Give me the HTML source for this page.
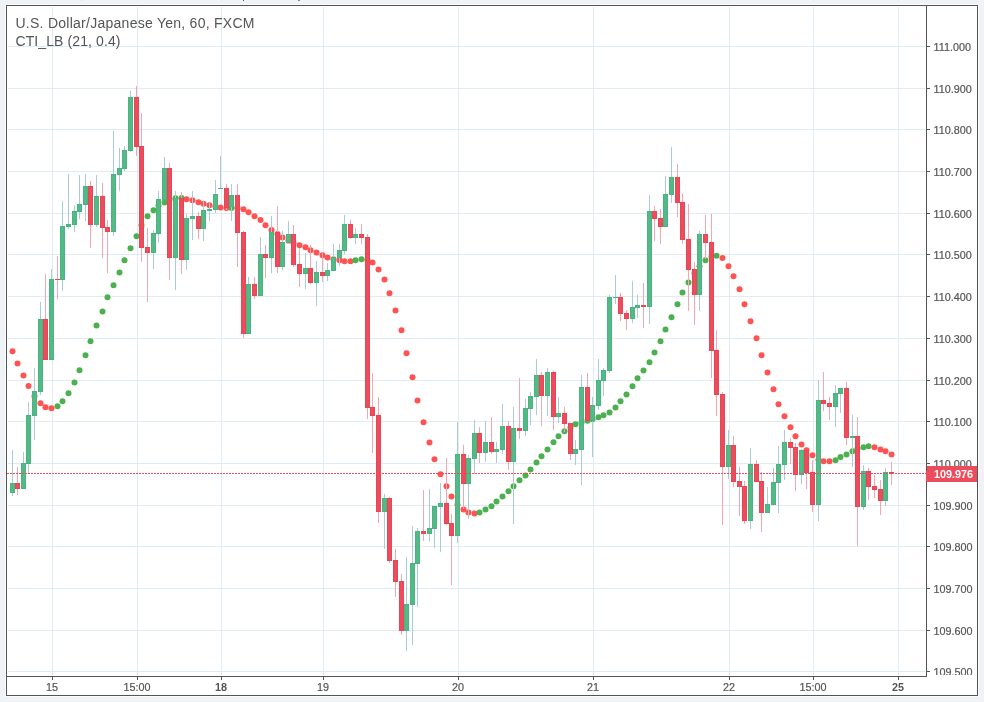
<!DOCTYPE html>
<html lang="en"><head><meta charset="utf-8"><title>USDJPY chart</title>
<style>html,body{margin:0;padding:0;background:#f0f3f6;overflow:hidden}body{width:984px;height:702px;position:relative;font-family:"Liberation Sans",Arial,sans-serif}svg{position:absolute;left:0;top:0;display:block}text{font-family:"Liberation Sans",Arial,sans-serif}.lg{font-size:14px;letter-spacing:.26px;fill:#555}.ax{font-size:10.8px;fill:#555;stroke:#555;stroke-width:.2px}.pl{font-size:10.8px;fill:#fff;font-weight:bold}.b{font-weight:bold;stroke:none}</style></head><body>
<svg width="984" height="702" viewBox="0 0 984 702">
<rect x="5" y="4" width="974" height="693" fill="#fafcfe"/><rect x="6" y="5" width="972" height="691" fill="#fff"/>
<rect x="81" y="0" width="1" height="1" fill="#dcdee0"/><rect x="243" y="0" width="1" height="1" fill="#555"/><rect x="298" y="0" width="2" height="1" fill="#888"/>
<g fill="#e1ecf2" shape-rendering="crispEdges">
<rect x="8" y="46" width="917" height="1"/>
<rect x="8" y="88" width="917" height="1"/>
<rect x="8" y="129" width="917" height="1"/>
<rect x="8" y="171" width="917" height="1"/>
<rect x="8" y="213" width="917" height="1"/>
<rect x="8" y="254" width="917" height="1"/>
<rect x="8" y="296" width="917" height="1"/>
<rect x="8" y="338" width="917" height="1"/>
<rect x="8" y="380" width="917" height="1"/>
<rect x="8" y="421" width="917" height="1"/>
<rect x="8" y="463" width="917" height="1"/>
<rect x="8" y="505" width="917" height="1"/>
<rect x="8" y="546" width="917" height="1"/>
<rect x="8" y="588" width="917" height="1"/>
<rect x="8" y="630" width="917" height="1"/>
<rect x="8" y="671" width="917" height="1"/>
<rect x="52" y="7" width="1" height="668"/>
<rect x="137" y="7" width="1" height="668"/>
<rect x="221" y="7" width="1" height="668"/>
<rect x="323" y="7" width="1" height="668"/>
<rect x="458" y="7" width="1" height="668"/>
<rect x="593" y="7" width="1" height="668"/>
<rect x="729" y="7" width="1" height="668"/>
<rect x="813" y="7" width="1" height="668"/>
<rect x="898" y="7" width="1" height="668"/>
</g>
<clipPath id="pane"><rect x="7" y="6" width="919" height="670"/></clipPath>
<g clip-path="url(#pane)">
<g>
<circle cx="12.5" cy="351.3" r="3" fill="#ff5252"/>
<circle cx="17.5" cy="363.5" r="3" fill="#ff5252"/>
<circle cx="23.5" cy="375.5" r="3" fill="#ff5252"/>
<circle cx="28.5" cy="386.0" r="3" fill="#ff5252"/>
<circle cx="34.5" cy="396.3" r="3" fill="#ff5252"/>
<circle cx="40.5" cy="403.3" r="3" fill="#ff5252"/>
<circle cx="45.5" cy="407.2" r="3" fill="#ff5252"/>
<circle cx="51.5" cy="408.3" r="3" fill="#ff5252"/>
<circle cx="57.5" cy="406.3" r="3" fill="#4caf50"/>
<circle cx="62.5" cy="401.3" r="3" fill="#4caf50"/>
<circle cx="68.5" cy="393.3" r="3" fill="#4caf50"/>
<circle cx="74.5" cy="382.6" r="3" fill="#4caf50"/>
<circle cx="79.5" cy="370.3" r="3" fill="#4caf50"/>
<circle cx="85.5" cy="355.3" r="3" fill="#4caf50"/>
<circle cx="90.5" cy="341.3" r="3" fill="#4caf50"/>
<circle cx="96.5" cy="325.5" r="3" fill="#4caf50"/>
<circle cx="102.5" cy="311.5" r="3" fill="#4caf50"/>
<circle cx="107.5" cy="297.3" r="3" fill="#4caf50"/>
<circle cx="113.5" cy="285.3" r="3" fill="#4caf50"/>
<circle cx="119.5" cy="272.5" r="3" fill="#4caf50"/>
<circle cx="124.5" cy="260.3" r="3" fill="#4caf50"/>
<circle cx="130.5" cy="248.3" r="3" fill="#4caf50"/>
<circle cx="136.5" cy="236.3" r="3" fill="#4caf50"/>
<circle cx="141.5" cy="225.2" r="3" fill="#4caf50"/>
<circle cx="147.5" cy="216.3" r="3" fill="#4caf50"/>
<circle cx="153.5" cy="210.3" r="3" fill="#4caf50"/>
<circle cx="158.5" cy="205.7" r="3" fill="#4caf50"/>
<circle cx="164.5" cy="202.5" r="3" fill="#4caf50"/>
<circle cx="169.5" cy="200.0" r="3" fill="#4caf50"/>
<circle cx="175.5" cy="198.3" r="3" fill="#4caf50"/>
<circle cx="181.5" cy="198.0" r="3" fill="#4caf50"/>
<circle cx="186.5" cy="199.2" r="3" fill="#ff5252"/>
<circle cx="192.5" cy="200.3" r="3" fill="#ff5252"/>
<circle cx="198.5" cy="202.2" r="3" fill="#ff5252"/>
<circle cx="203.5" cy="203.7" r="3" fill="#ff5252"/>
<circle cx="209.5" cy="205.3" r="3" fill="#ff5252"/>
<circle cx="215.5" cy="206.7" r="3" fill="#ff5252"/>
<circle cx="220.5" cy="207.5" r="3" fill="#ff5252"/>
<circle cx="226.5" cy="208.0" r="3" fill="#ff5252"/>
<circle cx="231.5" cy="208.0" r="3" fill="#4caf50"/>
<circle cx="237.5" cy="208.0" r="3" fill="#ff5252"/>
<circle cx="243.5" cy="209.2" r="3" fill="#ff5252"/>
<circle cx="248.5" cy="212.2" r="3" fill="#ff5252"/>
<circle cx="254.5" cy="216.2" r="3" fill="#ff5252"/>
<circle cx="260.5" cy="220.0" r="3" fill="#ff5252"/>
<circle cx="265.5" cy="225.3" r="3" fill="#ff5252"/>
<circle cx="271.5" cy="230.0" r="3" fill="#ff5252"/>
<circle cx="277.5" cy="234.0" r="3" fill="#ff5252"/>
<circle cx="282.5" cy="237.5" r="3" fill="#ff5252"/>
<circle cx="288.5" cy="240.8" r="3" fill="#ff5252"/>
<circle cx="293.5" cy="243.0" r="3" fill="#ff5252"/>
<circle cx="299.5" cy="245.3" r="3" fill="#ff5252"/>
<circle cx="305.5" cy="247.3" r="3" fill="#ff5252"/>
<circle cx="310.5" cy="250.2" r="3" fill="#ff5252"/>
<circle cx="316.5" cy="252.5" r="3" fill="#ff5252"/>
<circle cx="322.5" cy="255.3" r="3" fill="#ff5252"/>
<circle cx="327.5" cy="257.5" r="3" fill="#ff5252"/>
<circle cx="333.5" cy="259.2" r="3" fill="#ff5252"/>
<circle cx="339.5" cy="260.3" r="3" fill="#ff5252"/>
<circle cx="344.5" cy="261.3" r="3" fill="#ff5252"/>
<circle cx="350.5" cy="261.3" r="3" fill="#ff5252"/>
<circle cx="355.5" cy="260.3" r="3" fill="#4caf50"/>
<circle cx="361.5" cy="259.3" r="3" fill="#4caf50"/>
<circle cx="367.5" cy="260.0" r="3" fill="#ff5252"/>
<circle cx="372.5" cy="262.5" r="3" fill="#ff5252"/>
<circle cx="378.5" cy="269.5" r="3" fill="#ff5252"/>
<circle cx="384.5" cy="279.5" r="3" fill="#ff5252"/>
<circle cx="389.5" cy="293.3" r="3" fill="#ff5252"/>
<circle cx="395.5" cy="310.4" r="3" fill="#ff5252"/>
<circle cx="401.5" cy="330.3" r="3" fill="#ff5252"/>
<circle cx="406.5" cy="353.3" r="3" fill="#ff5252"/>
<circle cx="412.5" cy="377.3" r="3" fill="#ff5252"/>
<circle cx="417.5" cy="400.5" r="3" fill="#ff5252"/>
<circle cx="423.5" cy="422.2" r="3" fill="#ff5252"/>
<circle cx="429.5" cy="442.5" r="3" fill="#ff5252"/>
<circle cx="434.5" cy="459.3" r="3" fill="#ff5252"/>
<circle cx="440.5" cy="474.3" r="3" fill="#ff5252"/>
<circle cx="446.5" cy="486.3" r="3" fill="#ff5252"/>
<circle cx="451.5" cy="496.5" r="3" fill="#ff5252"/>
<circle cx="457.5" cy="504.7" r="3" fill="#ff5252"/>
<circle cx="463.5" cy="509.5" r="3" fill="#ff5252"/>
<circle cx="468.5" cy="512.4" r="3" fill="#ff5252"/>
<circle cx="474.5" cy="513.5" r="3" fill="#ff5252"/>
<circle cx="479.5" cy="512.5" r="3" fill="#4caf50"/>
<circle cx="485.5" cy="509.6" r="3" fill="#4caf50"/>
<circle cx="491.5" cy="506.3" r="3" fill="#4caf50"/>
<circle cx="496.5" cy="501.5" r="3" fill="#4caf50"/>
<circle cx="502.5" cy="496.5" r="3" fill="#4caf50"/>
<circle cx="508.5" cy="491.3" r="3" fill="#4caf50"/>
<circle cx="513.5" cy="486.3" r="3" fill="#4caf50"/>
<circle cx="519.5" cy="480.3" r="3" fill="#4caf50"/>
<circle cx="525.5" cy="475.5" r="3" fill="#4caf50"/>
<circle cx="530.5" cy="469.5" r="3" fill="#4caf50"/>
<circle cx="536.5" cy="462.4" r="3" fill="#4caf50"/>
<circle cx="541.5" cy="456.3" r="3" fill="#4caf50"/>
<circle cx="547.5" cy="449.4" r="3" fill="#4caf50"/>
<circle cx="553.5" cy="442.2" r="3" fill="#4caf50"/>
<circle cx="558.5" cy="436.3" r="3" fill="#4caf50"/>
<circle cx="564.5" cy="431.2" r="3" fill="#4caf50"/>
<circle cx="570.5" cy="427.5" r="3" fill="#4caf50"/>
<circle cx="575.5" cy="424.2" r="3" fill="#4caf50"/>
<circle cx="581.5" cy="422.5" r="3" fill="#4caf50"/>
<circle cx="587.5" cy="420.8" r="3" fill="#4caf50"/>
<circle cx="592.5" cy="419.2" r="3" fill="#4caf50"/>
<circle cx="598.5" cy="417.2" r="3" fill="#4caf50"/>
<circle cx="603.5" cy="415.3" r="3" fill="#4caf50"/>
<circle cx="609.5" cy="412.5" r="3" fill="#4caf50"/>
<circle cx="615.5" cy="407.5" r="3" fill="#4caf50"/>
<circle cx="620.5" cy="401.3" r="3" fill="#4caf50"/>
<circle cx="626.5" cy="394.5" r="3" fill="#4caf50"/>
<circle cx="632.5" cy="386.2" r="3" fill="#4caf50"/>
<circle cx="637.5" cy="378.3" r="3" fill="#4caf50"/>
<circle cx="643.5" cy="370.5" r="3" fill="#4caf50"/>
<circle cx="649.5" cy="362.2" r="3" fill="#4caf50"/>
<circle cx="654.5" cy="352.5" r="3" fill="#4caf50"/>
<circle cx="660.5" cy="341.2" r="3" fill="#4caf50"/>
<circle cx="665.5" cy="329.5" r="3" fill="#4caf50"/>
<circle cx="671.5" cy="317.3" r="3" fill="#4caf50"/>
<circle cx="677.5" cy="304.3" r="3" fill="#4caf50"/>
<circle cx="682.5" cy="292.5" r="3" fill="#4caf50"/>
<circle cx="688.5" cy="282.5" r="3" fill="#4caf50"/>
<circle cx="694.5" cy="273.3" r="3" fill="#4caf50"/>
<circle cx="699.5" cy="266.2" r="3" fill="#4caf50"/>
<circle cx="705.5" cy="260.3" r="3" fill="#4caf50"/>
<circle cx="711.5" cy="256.7" r="3" fill="#4caf50"/>
<circle cx="716.5" cy="255.8" r="3" fill="#4caf50"/>
<circle cx="722.5" cy="258.0" r="3" fill="#ff5252"/>
<circle cx="728.5" cy="266.3" r="3" fill="#ff5252"/>
<circle cx="733.5" cy="276.3" r="3" fill="#ff5252"/>
<circle cx="739.5" cy="289.3" r="3" fill="#ff5252"/>
<circle cx="744.5" cy="304.3" r="3" fill="#ff5252"/>
<circle cx="750.5" cy="321.3" r="3" fill="#ff5252"/>
<circle cx="756.5" cy="338.3" r="3" fill="#ff5252"/>
<circle cx="761.5" cy="355.3" r="3" fill="#ff5252"/>
<circle cx="767.5" cy="372.5" r="3" fill="#ff5252"/>
<circle cx="773.5" cy="389.3" r="3" fill="#ff5252"/>
<circle cx="778.5" cy="404.3" r="3" fill="#ff5252"/>
<circle cx="784.5" cy="416.3" r="3" fill="#ff5252"/>
<circle cx="790.5" cy="427.3" r="3" fill="#ff5252"/>
<circle cx="795.5" cy="436.3" r="3" fill="#ff5252"/>
<circle cx="801.5" cy="444.4" r="3" fill="#ff5252"/>
<circle cx="806.5" cy="450.3" r="3" fill="#ff5252"/>
<circle cx="812.5" cy="455.3" r="3" fill="#ff5252"/>
<circle cx="818.5" cy="459.7" r="3" fill="#ff5252"/>
<circle cx="823.5" cy="461.3" r="3" fill="#ff5252"/>
<circle cx="829.5" cy="461.3" r="3" fill="#ff5252"/>
<circle cx="835.5" cy="460.2" r="3" fill="#4caf50"/>
<circle cx="840.5" cy="457.1" r="3" fill="#4caf50"/>
<circle cx="846.5" cy="454.5" r="3" fill="#4caf50"/>
<circle cx="852.5" cy="451.3" r="3" fill="#4caf50"/>
<circle cx="857.5" cy="448.8" r="3" fill="#4caf50"/>
<circle cx="863.5" cy="447.2" r="3" fill="#4caf50"/>
<circle cx="868.5" cy="446.3" r="3" fill="#4caf50"/>
<circle cx="874.5" cy="447.2" r="3" fill="#ff5252"/>
<circle cx="880.5" cy="449.5" r="3" fill="#ff5252"/>
<circle cx="885.5" cy="451.3" r="3" fill="#ff5252"/>
<circle cx="891.5" cy="454.5" r="3" fill="#ff5252"/>
</g>
<g shape-rendering="crispEdges">
<rect x="12" y="450" width="1" height="46" fill="#a9cdd3"/>
<rect x="10" y="483" width="5" height="10" fill="#4ab480"/>
<rect x="11" y="484" width="3" height="8" fill="#53b987"/>
<rect x="17" y="467" width="1" height="28" fill="#f5a6ae"/>
<rect x="15" y="483" width="5" height="6" fill="#e94555"/>
<rect x="16" y="484" width="3" height="4" fill="#eb4d5c"/>
<rect x="23" y="452" width="1" height="37" fill="#a9cdd3"/>
<rect x="21" y="463" width="5" height="26" fill="#4ab480"/>
<rect x="22" y="464" width="3" height="24" fill="#53b987"/>
<rect x="28" y="402" width="1" height="71" fill="#a9cdd3"/>
<rect x="26" y="415" width="5" height="49" fill="#4ab480"/>
<rect x="27" y="416" width="3" height="47" fill="#53b987"/>
<rect x="34" y="368" width="1" height="72" fill="#a9cdd3"/>
<rect x="32" y="391" width="5" height="25" fill="#4ab480"/>
<rect x="33" y="392" width="3" height="23" fill="#53b987"/>
<rect x="40" y="302" width="1" height="93" fill="#a9cdd3"/>
<rect x="38" y="319" width="5" height="73" fill="#4ab480"/>
<rect x="39" y="320" width="3" height="71" fill="#53b987"/>
<rect x="45" y="274" width="1" height="86" fill="#f5a6ae"/>
<rect x="43" y="319" width="5" height="41" fill="#e94555"/>
<rect x="44" y="320" width="3" height="39" fill="#eb4d5c"/>
<rect x="51" y="269" width="1" height="91" fill="#a9cdd3"/>
<rect x="49" y="279" width="5" height="81" fill="#4ab480"/>
<rect x="50" y="280" width="3" height="79" fill="#53b987"/>
<rect x="57" y="256" width="1" height="43" fill="#f5a6ae"/>
<rect x="55" y="279" width="5" height="1" fill="#e94555"/>
<rect x="62" y="201" width="1" height="90" fill="#a9cdd3"/>
<rect x="60" y="226" width="5" height="54" fill="#4ab480"/>
<rect x="61" y="227" width="3" height="52" fill="#53b987"/>
<rect x="68" y="174" width="1" height="55" fill="#a9cdd3"/>
<rect x="66" y="224" width="5" height="3" fill="#4ab480"/>
<rect x="67" y="225" width="3" height="1" fill="#53b987"/>
<rect x="74" y="205" width="1" height="27" fill="#a9cdd3"/>
<rect x="72" y="211" width="5" height="14" fill="#4ab480"/>
<rect x="73" y="212" width="3" height="12" fill="#53b987"/>
<rect x="79" y="175" width="1" height="44" fill="#a9cdd3"/>
<rect x="77" y="204" width="5" height="8" fill="#4ab480"/>
<rect x="78" y="205" width="3" height="6" fill="#53b987"/>
<rect x="85" y="174" width="1" height="47" fill="#a9cdd3"/>
<rect x="83" y="186" width="5" height="19" fill="#4ab480"/>
<rect x="84" y="187" width="3" height="17" fill="#53b987"/>
<rect x="90" y="181" width="1" height="67" fill="#f5a6ae"/>
<rect x="88" y="186" width="5" height="39" fill="#e94555"/>
<rect x="89" y="187" width="3" height="37" fill="#eb4d5c"/>
<rect x="96" y="175" width="1" height="52" fill="#a9cdd3"/>
<rect x="94" y="196" width="5" height="29" fill="#4ab480"/>
<rect x="95" y="197" width="3" height="27" fill="#53b987"/>
<rect x="102" y="183" width="1" height="75" fill="#f5a6ae"/>
<rect x="100" y="196" width="5" height="32" fill="#e94555"/>
<rect x="101" y="197" width="3" height="30" fill="#eb4d5c"/>
<rect x="107" y="220" width="1" height="53" fill="#f5a6ae"/>
<rect x="105" y="227" width="5" height="5" fill="#e94555"/>
<rect x="106" y="228" width="3" height="3" fill="#eb4d5c"/>
<rect x="113" y="131" width="1" height="105" fill="#a9cdd3"/>
<rect x="111" y="174" width="5" height="58" fill="#4ab480"/>
<rect x="112" y="175" width="3" height="56" fill="#53b987"/>
<rect x="119" y="148" width="1" height="43" fill="#a9cdd3"/>
<rect x="117" y="168" width="5" height="7" fill="#4ab480"/>
<rect x="118" y="169" width="3" height="5" fill="#53b987"/>
<rect x="124" y="146" width="1" height="25" fill="#a9cdd3"/>
<rect x="122" y="150" width="5" height="19" fill="#4ab480"/>
<rect x="123" y="151" width="3" height="17" fill="#53b987"/>
<rect x="130" y="91" width="1" height="61" fill="#a9cdd3"/>
<rect x="128" y="97" width="5" height="54" fill="#4ab480"/>
<rect x="129" y="98" width="3" height="52" fill="#53b987"/>
<rect x="136" y="86" width="1" height="70" fill="#f5a6ae"/>
<rect x="134" y="97" width="5" height="50" fill="#e94555"/>
<rect x="135" y="98" width="3" height="48" fill="#eb4d5c"/>
<rect x="141" y="113" width="1" height="149" fill="#f5a6ae"/>
<rect x="139" y="146" width="5" height="102" fill="#e94555"/>
<rect x="140" y="147" width="3" height="100" fill="#eb4d5c"/>
<rect x="147" y="228" width="1" height="74" fill="#f5a6ae"/>
<rect x="145" y="247" width="5" height="6" fill="#e94555"/>
<rect x="146" y="248" width="3" height="4" fill="#eb4d5c"/>
<rect x="153" y="230" width="1" height="39" fill="#a9cdd3"/>
<rect x="151" y="233" width="5" height="20" fill="#4ab480"/>
<rect x="152" y="234" width="3" height="18" fill="#53b987"/>
<rect x="158" y="191" width="1" height="52" fill="#a9cdd3"/>
<rect x="156" y="199" width="5" height="35" fill="#4ab480"/>
<rect x="157" y="200" width="3" height="33" fill="#53b987"/>
<rect x="164" y="157" width="1" height="43" fill="#a9cdd3"/>
<rect x="162" y="168" width="5" height="32" fill="#4ab480"/>
<rect x="163" y="169" width="3" height="30" fill="#53b987"/>
<rect x="169" y="163" width="1" height="117" fill="#f5a6ae"/>
<rect x="167" y="168" width="5" height="90" fill="#e94555"/>
<rect x="168" y="169" width="3" height="88" fill="#eb4d5c"/>
<rect x="175" y="191" width="1" height="99" fill="#a9cdd3"/>
<rect x="173" y="198" width="5" height="60" fill="#4ab480"/>
<rect x="174" y="199" width="3" height="58" fill="#53b987"/>
<rect x="181" y="192" width="1" height="82" fill="#f5a6ae"/>
<rect x="179" y="198" width="5" height="62" fill="#e94555"/>
<rect x="180" y="199" width="3" height="60" fill="#eb4d5c"/>
<rect x="186" y="214" width="1" height="56" fill="#a9cdd3"/>
<rect x="184" y="218" width="5" height="42" fill="#4ab480"/>
<rect x="185" y="219" width="3" height="40" fill="#53b987"/>
<rect x="192" y="191" width="1" height="49" fill="#a9cdd3"/>
<rect x="190" y="216" width="5" height="3" fill="#4ab480"/>
<rect x="191" y="217" width="3" height="1" fill="#53b987"/>
<rect x="198" y="212" width="1" height="27" fill="#f5a6ae"/>
<rect x="196" y="216" width="5" height="13" fill="#e94555"/>
<rect x="197" y="217" width="3" height="11" fill="#eb4d5c"/>
<rect x="203" y="201" width="1" height="40" fill="#a9cdd3"/>
<rect x="201" y="210" width="5" height="19" fill="#4ab480"/>
<rect x="202" y="211" width="3" height="17" fill="#53b987"/>
<rect x="209" y="203" width="1" height="18" fill="#a9cdd3"/>
<rect x="207" y="209" width="5" height="2" fill="#4ab480"/>
<rect x="215" y="180" width="1" height="33" fill="#a9cdd3"/>
<rect x="213" y="194" width="5" height="16" fill="#4ab480"/>
<rect x="214" y="195" width="3" height="14" fill="#53b987"/>
<rect x="220" y="156" width="1" height="33" fill="#a9cdd3"/>
<rect x="218" y="188" width="5" height="1" fill="#4ab480"/>
<rect x="226" y="184" width="1" height="26" fill="#f5a6ae"/>
<rect x="224" y="188" width="5" height="20" fill="#e94555"/>
<rect x="225" y="189" width="3" height="18" fill="#eb4d5c"/>
<rect x="231" y="184" width="1" height="37" fill="#a9cdd3"/>
<rect x="229" y="195" width="5" height="12" fill="#4ab480"/>
<rect x="230" y="196" width="3" height="10" fill="#53b987"/>
<rect x="237" y="184" width="1" height="83" fill="#f5a6ae"/>
<rect x="235" y="195" width="5" height="38" fill="#e94555"/>
<rect x="236" y="196" width="3" height="36" fill="#eb4d5c"/>
<rect x="243" y="231" width="1" height="107" fill="#f5a6ae"/>
<rect x="241" y="232" width="5" height="102" fill="#e94555"/>
<rect x="242" y="233" width="3" height="100" fill="#eb4d5c"/>
<rect x="248" y="277" width="1" height="57" fill="#a9cdd3"/>
<rect x="246" y="284" width="5" height="50" fill="#4ab480"/>
<rect x="247" y="285" width="3" height="48" fill="#53b987"/>
<rect x="254" y="277" width="1" height="22" fill="#f5a6ae"/>
<rect x="252" y="284" width="5" height="12" fill="#e94555"/>
<rect x="253" y="285" width="3" height="10" fill="#eb4d5c"/>
<rect x="260" y="237" width="1" height="59" fill="#a9cdd3"/>
<rect x="258" y="254" width="5" height="42" fill="#4ab480"/>
<rect x="259" y="255" width="3" height="40" fill="#53b987"/>
<rect x="265" y="245" width="1" height="33" fill="#f5a6ae"/>
<rect x="263" y="254" width="5" height="4" fill="#e94555"/>
<rect x="264" y="255" width="3" height="2" fill="#eb4d5c"/>
<rect x="271" y="216" width="1" height="57" fill="#a9cdd3"/>
<rect x="269" y="232" width="5" height="26" fill="#4ab480"/>
<rect x="270" y="233" width="3" height="24" fill="#53b987"/>
<rect x="277" y="206" width="1" height="67" fill="#f5a6ae"/>
<rect x="275" y="232" width="5" height="35" fill="#e94555"/>
<rect x="276" y="233" width="3" height="33" fill="#eb4d5c"/>
<rect x="282" y="231" width="1" height="39" fill="#a9cdd3"/>
<rect x="280" y="242" width="5" height="25" fill="#4ab480"/>
<rect x="281" y="243" width="3" height="23" fill="#53b987"/>
<rect x="288" y="221" width="1" height="23" fill="#a9cdd3"/>
<rect x="286" y="234" width="5" height="9" fill="#4ab480"/>
<rect x="287" y="235" width="3" height="7" fill="#53b987"/>
<rect x="293" y="225" width="1" height="42" fill="#f5a6ae"/>
<rect x="291" y="234" width="5" height="31" fill="#e94555"/>
<rect x="292" y="235" width="3" height="29" fill="#eb4d5c"/>
<rect x="299" y="248" width="1" height="39" fill="#f5a6ae"/>
<rect x="297" y="264" width="5" height="10" fill="#e94555"/>
<rect x="298" y="265" width="3" height="8" fill="#eb4d5c"/>
<rect x="305" y="253" width="1" height="36" fill="#a9cdd3"/>
<rect x="303" y="268" width="5" height="6" fill="#4ab480"/>
<rect x="304" y="269" width="3" height="4" fill="#53b987"/>
<rect x="310" y="245" width="1" height="39" fill="#f5a6ae"/>
<rect x="308" y="268" width="5" height="15" fill="#e94555"/>
<rect x="309" y="269" width="3" height="13" fill="#eb4d5c"/>
<rect x="316" y="261" width="1" height="45" fill="#a9cdd3"/>
<rect x="314" y="272" width="5" height="11" fill="#4ab480"/>
<rect x="315" y="273" width="3" height="9" fill="#53b987"/>
<rect x="322" y="253" width="1" height="29" fill="#f5a6ae"/>
<rect x="320" y="272" width="5" height="4" fill="#e94555"/>
<rect x="321" y="273" width="3" height="2" fill="#eb4d5c"/>
<rect x="327" y="263" width="1" height="18" fill="#a9cdd3"/>
<rect x="325" y="270" width="5" height="6" fill="#4ab480"/>
<rect x="326" y="271" width="3" height="4" fill="#53b987"/>
<rect x="333" y="244" width="1" height="27" fill="#a9cdd3"/>
<rect x="331" y="257" width="5" height="14" fill="#4ab480"/>
<rect x="332" y="258" width="3" height="12" fill="#53b987"/>
<rect x="339" y="244" width="1" height="22" fill="#a9cdd3"/>
<rect x="337" y="250" width="5" height="8" fill="#4ab480"/>
<rect x="338" y="251" width="3" height="6" fill="#53b987"/>
<rect x="344" y="215" width="1" height="39" fill="#a9cdd3"/>
<rect x="342" y="224" width="5" height="27" fill="#4ab480"/>
<rect x="343" y="225" width="3" height="25" fill="#53b987"/>
<rect x="350" y="220" width="1" height="19" fill="#f5a6ae"/>
<rect x="348" y="224" width="5" height="14" fill="#e94555"/>
<rect x="349" y="225" width="3" height="12" fill="#eb4d5c"/>
<rect x="355" y="228" width="1" height="16" fill="#a9cdd3"/>
<rect x="353" y="234" width="5" height="4" fill="#4ab480"/>
<rect x="354" y="235" width="3" height="2" fill="#53b987"/>
<rect x="361" y="224" width="1" height="20" fill="#f5a6ae"/>
<rect x="359" y="234" width="5" height="4" fill="#e94555"/>
<rect x="360" y="235" width="3" height="2" fill="#eb4d5c"/>
<rect x="367" y="234" width="1" height="185" fill="#f5a6ae"/>
<rect x="365" y="237" width="5" height="171" fill="#e94555"/>
<rect x="366" y="238" width="3" height="169" fill="#eb4d5c"/>
<rect x="372" y="373" width="1" height="80" fill="#f5a6ae"/>
<rect x="370" y="407" width="5" height="9" fill="#e94555"/>
<rect x="371" y="408" width="3" height="7" fill="#eb4d5c"/>
<rect x="378" y="397" width="1" height="126" fill="#f5a6ae"/>
<rect x="376" y="415" width="5" height="97" fill="#e94555"/>
<rect x="377" y="416" width="3" height="95" fill="#eb4d5c"/>
<rect x="384" y="494" width="1" height="55" fill="#a9cdd3"/>
<rect x="382" y="498" width="5" height="14" fill="#4ab480"/>
<rect x="383" y="499" width="3" height="12" fill="#53b987"/>
<rect x="389" y="497" width="1" height="66" fill="#f5a6ae"/>
<rect x="387" y="498" width="5" height="63" fill="#e94555"/>
<rect x="388" y="499" width="3" height="61" fill="#eb4d5c"/>
<rect x="395" y="549" width="1" height="48" fill="#f5a6ae"/>
<rect x="393" y="560" width="5" height="22" fill="#e94555"/>
<rect x="394" y="561" width="3" height="20" fill="#eb4d5c"/>
<rect x="401" y="574" width="1" height="61" fill="#f5a6ae"/>
<rect x="399" y="581" width="5" height="50" fill="#e94555"/>
<rect x="400" y="582" width="3" height="48" fill="#eb4d5c"/>
<rect x="406" y="557" width="1" height="94" fill="#a9cdd3"/>
<rect x="404" y="604" width="5" height="27" fill="#4ab480"/>
<rect x="405" y="605" width="3" height="25" fill="#53b987"/>
<rect x="412" y="526" width="1" height="119" fill="#a9cdd3"/>
<rect x="410" y="563" width="5" height="42" fill="#4ab480"/>
<rect x="411" y="564" width="3" height="40" fill="#53b987"/>
<rect x="417" y="528" width="1" height="79" fill="#a9cdd3"/>
<rect x="415" y="531" width="5" height="33" fill="#4ab480"/>
<rect x="416" y="532" width="3" height="31" fill="#53b987"/>
<rect x="423" y="490" width="1" height="51" fill="#f5a6ae"/>
<rect x="421" y="531" width="5" height="3" fill="#e94555"/>
<rect x="422" y="532" width="3" height="1" fill="#eb4d5c"/>
<rect x="429" y="489" width="1" height="52" fill="#a9cdd3"/>
<rect x="427" y="528" width="5" height="6" fill="#4ab480"/>
<rect x="428" y="529" width="3" height="4" fill="#53b987"/>
<rect x="434" y="506" width="1" height="42" fill="#a9cdd3"/>
<rect x="432" y="506" width="5" height="23" fill="#4ab480"/>
<rect x="433" y="507" width="3" height="21" fill="#53b987"/>
<rect x="440" y="483" width="1" height="69" fill="#a9cdd3"/>
<rect x="438" y="503" width="5" height="4" fill="#4ab480"/>
<rect x="439" y="504" width="3" height="2" fill="#53b987"/>
<rect x="446" y="458" width="1" height="67" fill="#f5a6ae"/>
<rect x="444" y="503" width="5" height="21" fill="#e94555"/>
<rect x="445" y="504" width="3" height="19" fill="#eb4d5c"/>
<rect x="451" y="514" width="1" height="71" fill="#f5a6ae"/>
<rect x="449" y="523" width="5" height="13" fill="#e94555"/>
<rect x="450" y="524" width="3" height="11" fill="#eb4d5c"/>
<rect x="457" y="422" width="1" height="121" fill="#a9cdd3"/>
<rect x="455" y="454" width="5" height="82" fill="#4ab480"/>
<rect x="456" y="455" width="3" height="80" fill="#53b987"/>
<rect x="463" y="445" width="1" height="64" fill="#f5a6ae"/>
<rect x="461" y="454" width="5" height="30" fill="#e94555"/>
<rect x="462" y="455" width="3" height="28" fill="#eb4d5c"/>
<rect x="468" y="455" width="1" height="64" fill="#a9cdd3"/>
<rect x="466" y="458" width="5" height="26" fill="#4ab480"/>
<rect x="467" y="459" width="3" height="24" fill="#53b987"/>
<rect x="474" y="420" width="1" height="54" fill="#a9cdd3"/>
<rect x="472" y="433" width="5" height="26" fill="#4ab480"/>
<rect x="473" y="434" width="3" height="24" fill="#53b987"/>
<rect x="479" y="427" width="1" height="36" fill="#f5a6ae"/>
<rect x="477" y="433" width="5" height="20" fill="#e94555"/>
<rect x="478" y="434" width="3" height="18" fill="#eb4d5c"/>
<rect x="485" y="421" width="1" height="41" fill="#a9cdd3"/>
<rect x="483" y="442" width="5" height="11" fill="#4ab480"/>
<rect x="484" y="443" width="3" height="9" fill="#53b987"/>
<rect x="491" y="417" width="1" height="37" fill="#f5a6ae"/>
<rect x="489" y="442" width="5" height="10" fill="#e94555"/>
<rect x="490" y="443" width="3" height="8" fill="#eb4d5c"/>
<rect x="496" y="442" width="1" height="21" fill="#a9cdd3"/>
<rect x="494" y="449" width="5" height="3" fill="#4ab480"/>
<rect x="495" y="450" width="3" height="1" fill="#53b987"/>
<rect x="502" y="404" width="1" height="50" fill="#a9cdd3"/>
<rect x="500" y="426" width="5" height="24" fill="#4ab480"/>
<rect x="501" y="427" width="3" height="22" fill="#53b987"/>
<rect x="508" y="421" width="1" height="49" fill="#f5a6ae"/>
<rect x="506" y="426" width="5" height="36" fill="#e94555"/>
<rect x="507" y="427" width="3" height="34" fill="#eb4d5c"/>
<rect x="513" y="407" width="1" height="117" fill="#a9cdd3"/>
<rect x="511" y="428" width="5" height="34" fill="#4ab480"/>
<rect x="512" y="429" width="3" height="32" fill="#53b987"/>
<rect x="519" y="378" width="1" height="61" fill="#f5a6ae"/>
<rect x="517" y="428" width="5" height="3" fill="#e94555"/>
<rect x="518" y="429" width="3" height="1" fill="#eb4d5c"/>
<rect x="525" y="399" width="1" height="37" fill="#a9cdd3"/>
<rect x="523" y="408" width="5" height="23" fill="#4ab480"/>
<rect x="524" y="409" width="3" height="21" fill="#53b987"/>
<rect x="530" y="392" width="1" height="33" fill="#a9cdd3"/>
<rect x="528" y="396" width="5" height="13" fill="#4ab480"/>
<rect x="529" y="397" width="3" height="11" fill="#53b987"/>
<rect x="536" y="359" width="1" height="56" fill="#a9cdd3"/>
<rect x="534" y="375" width="5" height="22" fill="#4ab480"/>
<rect x="535" y="376" width="3" height="20" fill="#53b987"/>
<rect x="541" y="372" width="1" height="54" fill="#f5a6ae"/>
<rect x="539" y="375" width="5" height="21" fill="#e94555"/>
<rect x="540" y="376" width="3" height="19" fill="#eb4d5c"/>
<rect x="547" y="368" width="1" height="48" fill="#a9cdd3"/>
<rect x="545" y="372" width="5" height="24" fill="#4ab480"/>
<rect x="546" y="373" width="3" height="22" fill="#53b987"/>
<rect x="553" y="371" width="1" height="59" fill="#f5a6ae"/>
<rect x="551" y="372" width="5" height="45" fill="#e94555"/>
<rect x="552" y="373" width="3" height="43" fill="#eb4d5c"/>
<rect x="558" y="397" width="1" height="26" fill="#a9cdd3"/>
<rect x="556" y="413" width="5" height="4" fill="#4ab480"/>
<rect x="557" y="414" width="3" height="2" fill="#53b987"/>
<rect x="564" y="407" width="1" height="25" fill="#f5a6ae"/>
<rect x="562" y="413" width="5" height="11" fill="#e94555"/>
<rect x="563" y="414" width="3" height="9" fill="#eb4d5c"/>
<rect x="570" y="423" width="1" height="37" fill="#f5a6ae"/>
<rect x="568" y="423" width="5" height="31" fill="#e94555"/>
<rect x="569" y="424" width="3" height="29" fill="#eb4d5c"/>
<rect x="575" y="440" width="1" height="25" fill="#a9cdd3"/>
<rect x="573" y="449" width="5" height="5" fill="#4ab480"/>
<rect x="574" y="450" width="3" height="3" fill="#53b987"/>
<rect x="581" y="375" width="1" height="110" fill="#a9cdd3"/>
<rect x="579" y="387" width="5" height="63" fill="#4ab480"/>
<rect x="580" y="388" width="3" height="61" fill="#53b987"/>
<rect x="587" y="373" width="1" height="48" fill="#f5a6ae"/>
<rect x="585" y="387" width="5" height="34" fill="#e94555"/>
<rect x="586" y="388" width="3" height="32" fill="#eb4d5c"/>
<rect x="592" y="397" width="1" height="60" fill="#a9cdd3"/>
<rect x="590" y="405" width="5" height="16" fill="#4ab480"/>
<rect x="591" y="406" width="3" height="14" fill="#53b987"/>
<rect x="598" y="359" width="1" height="51" fill="#a9cdd3"/>
<rect x="596" y="380" width="5" height="26" fill="#4ab480"/>
<rect x="597" y="381" width="3" height="24" fill="#53b987"/>
<rect x="603" y="368" width="1" height="28" fill="#a9cdd3"/>
<rect x="601" y="370" width="5" height="11" fill="#4ab480"/>
<rect x="602" y="371" width="3" height="9" fill="#53b987"/>
<rect x="609" y="295" width="1" height="78" fill="#a9cdd3"/>
<rect x="607" y="297" width="5" height="74" fill="#4ab480"/>
<rect x="608" y="298" width="3" height="72" fill="#53b987"/>
<rect x="615" y="275" width="1" height="29" fill="#a9cdd3"/>
<rect x="613" y="297" width="5" height="1" fill="#4ab480"/>
<rect x="620" y="293" width="1" height="28" fill="#f5a6ae"/>
<rect x="618" y="297" width="5" height="17" fill="#e94555"/>
<rect x="619" y="298" width="3" height="15" fill="#eb4d5c"/>
<rect x="626" y="310" width="1" height="20" fill="#f5a6ae"/>
<rect x="624" y="313" width="5" height="6" fill="#e94555"/>
<rect x="625" y="314" width="3" height="4" fill="#eb4d5c"/>
<rect x="632" y="281" width="1" height="42" fill="#a9cdd3"/>
<rect x="630" y="307" width="5" height="12" fill="#4ab480"/>
<rect x="631" y="308" width="3" height="10" fill="#53b987"/>
<rect x="637" y="295" width="1" height="23" fill="#a9cdd3"/>
<rect x="635" y="305" width="5" height="3" fill="#4ab480"/>
<rect x="636" y="306" width="3" height="1" fill="#53b987"/>
<rect x="643" y="283" width="1" height="45" fill="#f5a6ae"/>
<rect x="641" y="305" width="5" height="2" fill="#e94555"/>
<rect x="649" y="195" width="1" height="129" fill="#a9cdd3"/>
<rect x="647" y="211" width="5" height="96" fill="#4ab480"/>
<rect x="648" y="212" width="3" height="94" fill="#53b987"/>
<rect x="654" y="206" width="1" height="35" fill="#f5a6ae"/>
<rect x="652" y="211" width="5" height="8" fill="#e94555"/>
<rect x="653" y="212" width="3" height="6" fill="#eb4d5c"/>
<rect x="660" y="209" width="1" height="35" fill="#f5a6ae"/>
<rect x="658" y="218" width="5" height="9" fill="#e94555"/>
<rect x="659" y="219" width="3" height="7" fill="#eb4d5c"/>
<rect x="665" y="176" width="1" height="51" fill="#a9cdd3"/>
<rect x="663" y="194" width="5" height="33" fill="#4ab480"/>
<rect x="664" y="195" width="3" height="31" fill="#53b987"/>
<rect x="671" y="147" width="1" height="56" fill="#a9cdd3"/>
<rect x="669" y="177" width="5" height="18" fill="#4ab480"/>
<rect x="670" y="178" width="3" height="16" fill="#53b987"/>
<rect x="677" y="164" width="1" height="53" fill="#f5a6ae"/>
<rect x="675" y="177" width="5" height="26" fill="#e94555"/>
<rect x="676" y="178" width="3" height="24" fill="#eb4d5c"/>
<rect x="682" y="193" width="1" height="51" fill="#f5a6ae"/>
<rect x="680" y="202" width="5" height="38" fill="#e94555"/>
<rect x="681" y="203" width="3" height="36" fill="#eb4d5c"/>
<rect x="688" y="204" width="1" height="107" fill="#f5a6ae"/>
<rect x="686" y="239" width="5" height="31" fill="#e94555"/>
<rect x="687" y="240" width="3" height="29" fill="#eb4d5c"/>
<rect x="694" y="262" width="1" height="63" fill="#f5a6ae"/>
<rect x="692" y="269" width="5" height="26" fill="#e94555"/>
<rect x="693" y="270" width="3" height="24" fill="#eb4d5c"/>
<rect x="699" y="231" width="1" height="80" fill="#a9cdd3"/>
<rect x="697" y="234" width="5" height="61" fill="#4ab480"/>
<rect x="698" y="235" width="3" height="59" fill="#53b987"/>
<rect x="705" y="215" width="1" height="44" fill="#f5a6ae"/>
<rect x="703" y="234" width="5" height="9" fill="#e94555"/>
<rect x="704" y="235" width="3" height="7" fill="#eb4d5c"/>
<rect x="711" y="214" width="1" height="164" fill="#f5a6ae"/>
<rect x="709" y="242" width="5" height="109" fill="#e94555"/>
<rect x="710" y="243" width="3" height="107" fill="#eb4d5c"/>
<rect x="716" y="330" width="1" height="86" fill="#f5a6ae"/>
<rect x="714" y="350" width="5" height="45" fill="#e94555"/>
<rect x="715" y="351" width="3" height="43" fill="#eb4d5c"/>
<rect x="722" y="392" width="1" height="133" fill="#f5a6ae"/>
<rect x="720" y="394" width="5" height="73" fill="#e94555"/>
<rect x="721" y="395" width="3" height="71" fill="#eb4d5c"/>
<rect x="728" y="430" width="1" height="49" fill="#a9cdd3"/>
<rect x="726" y="445" width="5" height="22" fill="#4ab480"/>
<rect x="727" y="446" width="3" height="20" fill="#53b987"/>
<rect x="733" y="436" width="1" height="51" fill="#f5a6ae"/>
<rect x="731" y="445" width="5" height="37" fill="#e94555"/>
<rect x="732" y="446" width="3" height="35" fill="#eb4d5c"/>
<rect x="739" y="467" width="1" height="49" fill="#f5a6ae"/>
<rect x="737" y="481" width="5" height="6" fill="#e94555"/>
<rect x="738" y="482" width="3" height="4" fill="#eb4d5c"/>
<rect x="744" y="481" width="1" height="43" fill="#f5a6ae"/>
<rect x="742" y="486" width="5" height="35" fill="#e94555"/>
<rect x="743" y="487" width="3" height="33" fill="#eb4d5c"/>
<rect x="750" y="448" width="1" height="81" fill="#a9cdd3"/>
<rect x="748" y="464" width="5" height="57" fill="#4ab480"/>
<rect x="749" y="465" width="3" height="55" fill="#53b987"/>
<rect x="756" y="460" width="1" height="22" fill="#f5a6ae"/>
<rect x="754" y="464" width="5" height="18" fill="#e94555"/>
<rect x="755" y="465" width="3" height="16" fill="#eb4d5c"/>
<rect x="761" y="472" width="1" height="60" fill="#f5a6ae"/>
<rect x="759" y="481" width="5" height="32" fill="#e94555"/>
<rect x="760" y="482" width="3" height="30" fill="#eb4d5c"/>
<rect x="767" y="487" width="1" height="26" fill="#a9cdd3"/>
<rect x="765" y="504" width="5" height="9" fill="#4ab480"/>
<rect x="766" y="505" width="3" height="7" fill="#53b987"/>
<rect x="773" y="468" width="1" height="37" fill="#a9cdd3"/>
<rect x="771" y="482" width="5" height="23" fill="#4ab480"/>
<rect x="772" y="483" width="3" height="21" fill="#53b987"/>
<rect x="778" y="446" width="1" height="67" fill="#a9cdd3"/>
<rect x="776" y="464" width="5" height="19" fill="#4ab480"/>
<rect x="777" y="465" width="3" height="17" fill="#53b987"/>
<rect x="784" y="430" width="1" height="50" fill="#a9cdd3"/>
<rect x="782" y="442" width="5" height="23" fill="#4ab480"/>
<rect x="783" y="443" width="3" height="21" fill="#53b987"/>
<rect x="790" y="438" width="1" height="26" fill="#f5a6ae"/>
<rect x="788" y="442" width="5" height="6" fill="#e94555"/>
<rect x="789" y="443" width="3" height="4" fill="#eb4d5c"/>
<rect x="795" y="443" width="1" height="48" fill="#f5a6ae"/>
<rect x="793" y="447" width="5" height="28" fill="#e94555"/>
<rect x="794" y="448" width="3" height="26" fill="#eb4d5c"/>
<rect x="801" y="449" width="1" height="35" fill="#a9cdd3"/>
<rect x="799" y="450" width="5" height="25" fill="#4ab480"/>
<rect x="800" y="451" width="3" height="23" fill="#53b987"/>
<rect x="806" y="450" width="1" height="39" fill="#f5a6ae"/>
<rect x="804" y="450" width="5" height="23" fill="#e94555"/>
<rect x="805" y="451" width="3" height="21" fill="#eb4d5c"/>
<rect x="812" y="460" width="1" height="52" fill="#f5a6ae"/>
<rect x="810" y="472" width="5" height="33" fill="#e94555"/>
<rect x="811" y="473" width="3" height="31" fill="#eb4d5c"/>
<rect x="818" y="380" width="1" height="141" fill="#a9cdd3"/>
<rect x="816" y="400" width="5" height="105" fill="#4ab480"/>
<rect x="817" y="401" width="3" height="103" fill="#53b987"/>
<rect x="823" y="372" width="1" height="39" fill="#f5a6ae"/>
<rect x="821" y="400" width="5" height="4" fill="#e94555"/>
<rect x="822" y="401" width="3" height="2" fill="#eb4d5c"/>
<rect x="829" y="397" width="1" height="23" fill="#f5a6ae"/>
<rect x="827" y="403" width="5" height="4" fill="#e94555"/>
<rect x="828" y="404" width="3" height="2" fill="#eb4d5c"/>
<rect x="835" y="385" width="1" height="42" fill="#a9cdd3"/>
<rect x="833" y="393" width="5" height="14" fill="#4ab480"/>
<rect x="834" y="394" width="3" height="12" fill="#53b987"/>
<rect x="840" y="388" width="1" height="25" fill="#a9cdd3"/>
<rect x="838" y="388" width="5" height="6" fill="#4ab480"/>
<rect x="839" y="389" width="3" height="4" fill="#53b987"/>
<rect x="846" y="382" width="1" height="63" fill="#f5a6ae"/>
<rect x="844" y="388" width="5" height="50" fill="#e94555"/>
<rect x="845" y="389" width="3" height="48" fill="#eb4d5c"/>
<rect x="852" y="415" width="1" height="52" fill="#a9cdd3"/>
<rect x="850" y="436" width="5" height="2" fill="#4ab480"/>
<rect x="857" y="417" width="1" height="129" fill="#f5a6ae"/>
<rect x="855" y="436" width="5" height="71" fill="#e94555"/>
<rect x="856" y="437" width="3" height="69" fill="#eb4d5c"/>
<rect x="863" y="465" width="1" height="45" fill="#a9cdd3"/>
<rect x="861" y="471" width="5" height="36" fill="#4ab480"/>
<rect x="862" y="472" width="3" height="34" fill="#53b987"/>
<rect x="868" y="468" width="1" height="32" fill="#f5a6ae"/>
<rect x="866" y="471" width="5" height="16" fill="#e94555"/>
<rect x="867" y="472" width="3" height="14" fill="#eb4d5c"/>
<rect x="874" y="475" width="1" height="23" fill="#f5a6ae"/>
<rect x="872" y="486" width="5" height="4" fill="#e94555"/>
<rect x="873" y="487" width="3" height="2" fill="#eb4d5c"/>
<rect x="880" y="480" width="1" height="35" fill="#f5a6ae"/>
<rect x="878" y="489" width="5" height="12" fill="#e94555"/>
<rect x="879" y="490" width="3" height="10" fill="#eb4d5c"/>
<rect x="885" y="468" width="1" height="38" fill="#a9cdd3"/>
<rect x="883" y="472" width="5" height="29" fill="#4ab480"/>
<rect x="884" y="473" width="3" height="27" fill="#53b987"/>
<rect x="891" y="462" width="1" height="23" fill="#f5a6ae"/>
<rect x="889" y="472" width="5" height="2" fill="#e94555"/>
</g>
<g fill="#eb4d5c" shape-rendering="crispEdges">
<rect x="7" y="473" width="2" height="1"/>
<rect x="10" y="473" width="2" height="1"/>
<rect x="13" y="473" width="2" height="1"/>
<rect x="16" y="473" width="2" height="1"/>
<rect x="19" y="473" width="2" height="1"/>
<rect x="22" y="473" width="2" height="1"/>
<rect x="25" y="473" width="2" height="1"/>
<rect x="28" y="473" width="2" height="1"/>
<rect x="31" y="473" width="2" height="1"/>
<rect x="34" y="473" width="2" height="1"/>
<rect x="37" y="473" width="2" height="1"/>
<rect x="40" y="473" width="2" height="1"/>
<rect x="43" y="473" width="2" height="1"/>
<rect x="46" y="473" width="2" height="1"/>
<rect x="49" y="473" width="2" height="1"/>
<rect x="52" y="473" width="2" height="1"/>
<rect x="55" y="473" width="2" height="1"/>
<rect x="58" y="473" width="2" height="1"/>
<rect x="61" y="473" width="2" height="1"/>
<rect x="64" y="473" width="2" height="1"/>
<rect x="67" y="473" width="2" height="1"/>
<rect x="70" y="473" width="2" height="1"/>
<rect x="73" y="473" width="2" height="1"/>
<rect x="76" y="473" width="2" height="1"/>
<rect x="79" y="473" width="2" height="1"/>
<rect x="82" y="473" width="2" height="1"/>
<rect x="85" y="473" width="2" height="1"/>
<rect x="88" y="473" width="2" height="1"/>
<rect x="91" y="473" width="2" height="1"/>
<rect x="94" y="473" width="2" height="1"/>
<rect x="97" y="473" width="2" height="1"/>
<rect x="100" y="473" width="2" height="1"/>
<rect x="103" y="473" width="2" height="1"/>
<rect x="106" y="473" width="2" height="1"/>
<rect x="109" y="473" width="2" height="1"/>
<rect x="112" y="473" width="2" height="1"/>
<rect x="115" y="473" width="2" height="1"/>
<rect x="118" y="473" width="2" height="1"/>
<rect x="121" y="473" width="2" height="1"/>
<rect x="124" y="473" width="2" height="1"/>
<rect x="127" y="473" width="2" height="1"/>
<rect x="130" y="473" width="2" height="1"/>
<rect x="133" y="473" width="2" height="1"/>
<rect x="136" y="473" width="2" height="1"/>
<rect x="139" y="473" width="2" height="1"/>
<rect x="142" y="473" width="2" height="1"/>
<rect x="145" y="473" width="2" height="1"/>
<rect x="148" y="473" width="2" height="1"/>
<rect x="151" y="473" width="2" height="1"/>
<rect x="154" y="473" width="2" height="1"/>
<rect x="157" y="473" width="2" height="1"/>
<rect x="160" y="473" width="2" height="1"/>
<rect x="163" y="473" width="2" height="1"/>
<rect x="166" y="473" width="2" height="1"/>
<rect x="169" y="473" width="2" height="1"/>
<rect x="172" y="473" width="2" height="1"/>
<rect x="175" y="473" width="2" height="1"/>
<rect x="178" y="473" width="2" height="1"/>
<rect x="181" y="473" width="2" height="1"/>
<rect x="184" y="473" width="2" height="1"/>
<rect x="187" y="473" width="2" height="1"/>
<rect x="190" y="473" width="2" height="1"/>
<rect x="193" y="473" width="2" height="1"/>
<rect x="196" y="473" width="2" height="1"/>
<rect x="199" y="473" width="2" height="1"/>
<rect x="202" y="473" width="2" height="1"/>
<rect x="205" y="473" width="2" height="1"/>
<rect x="208" y="473" width="2" height="1"/>
<rect x="211" y="473" width="2" height="1"/>
<rect x="214" y="473" width="2" height="1"/>
<rect x="217" y="473" width="2" height="1"/>
<rect x="220" y="473" width="2" height="1"/>
<rect x="223" y="473" width="2" height="1"/>
<rect x="226" y="473" width="2" height="1"/>
<rect x="229" y="473" width="2" height="1"/>
<rect x="232" y="473" width="2" height="1"/>
<rect x="235" y="473" width="2" height="1"/>
<rect x="238" y="473" width="2" height="1"/>
<rect x="241" y="473" width="2" height="1"/>
<rect x="244" y="473" width="2" height="1"/>
<rect x="247" y="473" width="2" height="1"/>
<rect x="250" y="473" width="2" height="1"/>
<rect x="253" y="473" width="2" height="1"/>
<rect x="256" y="473" width="2" height="1"/>
<rect x="259" y="473" width="2" height="1"/>
<rect x="262" y="473" width="2" height="1"/>
<rect x="265" y="473" width="2" height="1"/>
<rect x="268" y="473" width="2" height="1"/>
<rect x="271" y="473" width="2" height="1"/>
<rect x="274" y="473" width="2" height="1"/>
<rect x="277" y="473" width="2" height="1"/>
<rect x="280" y="473" width="2" height="1"/>
<rect x="283" y="473" width="2" height="1"/>
<rect x="286" y="473" width="2" height="1"/>
<rect x="289" y="473" width="2" height="1"/>
<rect x="292" y="473" width="2" height="1"/>
<rect x="295" y="473" width="2" height="1"/>
<rect x="298" y="473" width="2" height="1"/>
<rect x="301" y="473" width="2" height="1"/>
<rect x="304" y="473" width="2" height="1"/>
<rect x="307" y="473" width="2" height="1"/>
<rect x="310" y="473" width="2" height="1"/>
<rect x="313" y="473" width="2" height="1"/>
<rect x="316" y="473" width="2" height="1"/>
<rect x="319" y="473" width="2" height="1"/>
<rect x="322" y="473" width="2" height="1"/>
<rect x="325" y="473" width="2" height="1"/>
<rect x="328" y="473" width="2" height="1"/>
<rect x="331" y="473" width="2" height="1"/>
<rect x="334" y="473" width="2" height="1"/>
<rect x="337" y="473" width="2" height="1"/>
<rect x="340" y="473" width="2" height="1"/>
<rect x="343" y="473" width="2" height="1"/>
<rect x="346" y="473" width="2" height="1"/>
<rect x="349" y="473" width="2" height="1"/>
<rect x="352" y="473" width="2" height="1"/>
<rect x="355" y="473" width="2" height="1"/>
<rect x="358" y="473" width="2" height="1"/>
<rect x="361" y="473" width="2" height="1"/>
<rect x="364" y="473" width="2" height="1"/>
<rect x="367" y="473" width="2" height="1"/>
<rect x="370" y="473" width="2" height="1"/>
<rect x="373" y="473" width="2" height="1"/>
<rect x="376" y="473" width="2" height="1"/>
<rect x="379" y="473" width="2" height="1"/>
<rect x="382" y="473" width="2" height="1"/>
<rect x="385" y="473" width="2" height="1"/>
<rect x="388" y="473" width="2" height="1"/>
<rect x="391" y="473" width="2" height="1"/>
<rect x="394" y="473" width="2" height="1"/>
<rect x="397" y="473" width="2" height="1"/>
<rect x="400" y="473" width="2" height="1"/>
<rect x="403" y="473" width="2" height="1"/>
<rect x="406" y="473" width="2" height="1"/>
<rect x="409" y="473" width="2" height="1"/>
<rect x="412" y="473" width="2" height="1"/>
<rect x="415" y="473" width="2" height="1"/>
<rect x="418" y="473" width="2" height="1"/>
<rect x="421" y="473" width="2" height="1"/>
<rect x="424" y="473" width="2" height="1"/>
<rect x="427" y="473" width="2" height="1"/>
<rect x="430" y="473" width="2" height="1"/>
<rect x="433" y="473" width="2" height="1"/>
<rect x="436" y="473" width="2" height="1"/>
<rect x="439" y="473" width="2" height="1"/>
<rect x="442" y="473" width="2" height="1"/>
<rect x="445" y="473" width="2" height="1"/>
<rect x="448" y="473" width="2" height="1"/>
<rect x="451" y="473" width="2" height="1"/>
<rect x="454" y="473" width="2" height="1"/>
<rect x="457" y="473" width="2" height="1"/>
<rect x="460" y="473" width="2" height="1"/>
<rect x="463" y="473" width="2" height="1"/>
<rect x="466" y="473" width="2" height="1"/>
<rect x="469" y="473" width="2" height="1"/>
<rect x="472" y="473" width="2" height="1"/>
<rect x="475" y="473" width="2" height="1"/>
<rect x="478" y="473" width="2" height="1"/>
<rect x="481" y="473" width="2" height="1"/>
<rect x="484" y="473" width="2" height="1"/>
<rect x="487" y="473" width="2" height="1"/>
<rect x="490" y="473" width="2" height="1"/>
<rect x="493" y="473" width="2" height="1"/>
<rect x="496" y="473" width="2" height="1"/>
<rect x="499" y="473" width="2" height="1"/>
<rect x="502" y="473" width="2" height="1"/>
<rect x="505" y="473" width="2" height="1"/>
<rect x="508" y="473" width="2" height="1"/>
<rect x="511" y="473" width="2" height="1"/>
<rect x="514" y="473" width="2" height="1"/>
<rect x="517" y="473" width="2" height="1"/>
<rect x="520" y="473" width="2" height="1"/>
<rect x="523" y="473" width="2" height="1"/>
<rect x="526" y="473" width="2" height="1"/>
<rect x="529" y="473" width="2" height="1"/>
<rect x="532" y="473" width="2" height="1"/>
<rect x="535" y="473" width="2" height="1"/>
<rect x="538" y="473" width="2" height="1"/>
<rect x="541" y="473" width="2" height="1"/>
<rect x="544" y="473" width="2" height="1"/>
<rect x="547" y="473" width="2" height="1"/>
<rect x="550" y="473" width="2" height="1"/>
<rect x="553" y="473" width="2" height="1"/>
<rect x="556" y="473" width="2" height="1"/>
<rect x="559" y="473" width="2" height="1"/>
<rect x="562" y="473" width="2" height="1"/>
<rect x="565" y="473" width="2" height="1"/>
<rect x="568" y="473" width="2" height="1"/>
<rect x="571" y="473" width="2" height="1"/>
<rect x="574" y="473" width="2" height="1"/>
<rect x="577" y="473" width="2" height="1"/>
<rect x="580" y="473" width="2" height="1"/>
<rect x="583" y="473" width="2" height="1"/>
<rect x="586" y="473" width="2" height="1"/>
<rect x="589" y="473" width="2" height="1"/>
<rect x="592" y="473" width="2" height="1"/>
<rect x="595" y="473" width="2" height="1"/>
<rect x="598" y="473" width="2" height="1"/>
<rect x="601" y="473" width="2" height="1"/>
<rect x="604" y="473" width="2" height="1"/>
<rect x="607" y="473" width="2" height="1"/>
<rect x="610" y="473" width="2" height="1"/>
<rect x="613" y="473" width="2" height="1"/>
<rect x="616" y="473" width="2" height="1"/>
<rect x="619" y="473" width="2" height="1"/>
<rect x="622" y="473" width="2" height="1"/>
<rect x="625" y="473" width="2" height="1"/>
<rect x="628" y="473" width="2" height="1"/>
<rect x="631" y="473" width="2" height="1"/>
<rect x="634" y="473" width="2" height="1"/>
<rect x="637" y="473" width="2" height="1"/>
<rect x="640" y="473" width="2" height="1"/>
<rect x="643" y="473" width="2" height="1"/>
<rect x="646" y="473" width="2" height="1"/>
<rect x="649" y="473" width="2" height="1"/>
<rect x="652" y="473" width="2" height="1"/>
<rect x="655" y="473" width="2" height="1"/>
<rect x="658" y="473" width="2" height="1"/>
<rect x="661" y="473" width="2" height="1"/>
<rect x="664" y="473" width="2" height="1"/>
<rect x="667" y="473" width="2" height="1"/>
<rect x="670" y="473" width="2" height="1"/>
<rect x="673" y="473" width="2" height="1"/>
<rect x="676" y="473" width="2" height="1"/>
<rect x="679" y="473" width="2" height="1"/>
<rect x="682" y="473" width="2" height="1"/>
<rect x="685" y="473" width="2" height="1"/>
<rect x="688" y="473" width="2" height="1"/>
<rect x="691" y="473" width="2" height="1"/>
<rect x="694" y="473" width="2" height="1"/>
<rect x="697" y="473" width="2" height="1"/>
<rect x="700" y="473" width="2" height="1"/>
<rect x="703" y="473" width="2" height="1"/>
<rect x="706" y="473" width="2" height="1"/>
<rect x="709" y="473" width="2" height="1"/>
<rect x="712" y="473" width="2" height="1"/>
<rect x="715" y="473" width="2" height="1"/>
<rect x="718" y="473" width="2" height="1"/>
<rect x="721" y="473" width="2" height="1"/>
<rect x="724" y="473" width="2" height="1"/>
<rect x="727" y="473" width="2" height="1"/>
<rect x="730" y="473" width="2" height="1"/>
<rect x="733" y="473" width="2" height="1"/>
<rect x="736" y="473" width="2" height="1"/>
<rect x="739" y="473" width="2" height="1"/>
<rect x="742" y="473" width="2" height="1"/>
<rect x="745" y="473" width="2" height="1"/>
<rect x="748" y="473" width="2" height="1"/>
<rect x="751" y="473" width="2" height="1"/>
<rect x="754" y="473" width="2" height="1"/>
<rect x="757" y="473" width="2" height="1"/>
<rect x="760" y="473" width="2" height="1"/>
<rect x="763" y="473" width="2" height="1"/>
<rect x="766" y="473" width="2" height="1"/>
<rect x="769" y="473" width="2" height="1"/>
<rect x="772" y="473" width="2" height="1"/>
<rect x="775" y="473" width="2" height="1"/>
<rect x="778" y="473" width="2" height="1"/>
<rect x="781" y="473" width="2" height="1"/>
<rect x="784" y="473" width="2" height="1"/>
<rect x="787" y="473" width="2" height="1"/>
<rect x="790" y="473" width="2" height="1"/>
<rect x="793" y="473" width="2" height="1"/>
<rect x="796" y="473" width="2" height="1"/>
<rect x="799" y="473" width="2" height="1"/>
<rect x="802" y="473" width="2" height="1"/>
<rect x="805" y="473" width="2" height="1"/>
<rect x="808" y="473" width="2" height="1"/>
<rect x="811" y="473" width="2" height="1"/>
<rect x="814" y="473" width="2" height="1"/>
<rect x="817" y="473" width="2" height="1"/>
<rect x="820" y="473" width="2" height="1"/>
<rect x="823" y="473" width="2" height="1"/>
<rect x="826" y="473" width="2" height="1"/>
<rect x="829" y="473" width="2" height="1"/>
<rect x="832" y="473" width="2" height="1"/>
<rect x="835" y="473" width="2" height="1"/>
<rect x="838" y="473" width="2" height="1"/>
<rect x="841" y="473" width="2" height="1"/>
<rect x="844" y="473" width="2" height="1"/>
<rect x="847" y="473" width="2" height="1"/>
<rect x="850" y="473" width="2" height="1"/>
<rect x="853" y="473" width="2" height="1"/>
<rect x="856" y="473" width="2" height="1"/>
<rect x="859" y="473" width="2" height="1"/>
<rect x="862" y="473" width="2" height="1"/>
<rect x="865" y="473" width="2" height="1"/>
<rect x="868" y="473" width="2" height="1"/>
<rect x="871" y="473" width="2" height="1"/>
<rect x="874" y="473" width="2" height="1"/>
<rect x="877" y="473" width="2" height="1"/>
<rect x="880" y="473" width="2" height="1"/>
<rect x="883" y="473" width="2" height="1"/>
<rect x="886" y="473" width="2" height="1"/>
<rect x="889" y="473" width="2" height="1"/>
<rect x="892" y="473" width="2" height="1"/>
<rect x="895" y="473" width="2" height="1"/>
<rect x="898" y="473" width="2" height="1"/>
<rect x="901" y="473" width="2" height="1"/>
<rect x="904" y="473" width="2" height="1"/>
<rect x="907" y="473" width="2" height="1"/>
<rect x="910" y="473" width="2" height="1"/>
<rect x="913" y="473" width="2" height="1"/>
<rect x="916" y="473" width="2" height="1"/>
<rect x="919" y="473" width="2" height="1"/>
<rect x="922" y="473" width="2" height="1"/>
<rect x="925" y="473" width="2" height="1"/>
</g>
</g>
<text class="lg" x="15.5" y="28">U.S. Dollar/Japanese Yen, 60, FXCM</text>
<text class="lg" x="15.5" y="46" style="letter-spacing:.1px">CTI_LB (21, 0.4)</text>
<clipPath id="pa"><rect x="927" y="6" width="50" height="669"/></clipPath>
<g clip-path="url(#pa)">
<g fill="#555555" shape-rendering="crispEdges">
<rect x="927" y="46" width="3" height="1"/>
<rect x="927" y="88" width="3" height="1"/>
<rect x="927" y="129" width="3" height="1"/>
<rect x="927" y="171" width="3" height="1"/>
<rect x="927" y="213" width="3" height="1"/>
<rect x="927" y="254" width="3" height="1"/>
<rect x="927" y="296" width="3" height="1"/>
<rect x="927" y="338" width="3" height="1"/>
<rect x="927" y="380" width="3" height="1"/>
<rect x="927" y="421" width="3" height="1"/>
<rect x="927" y="463" width="3" height="1"/>
<rect x="927" y="505" width="3" height="1"/>
<rect x="927" y="546" width="3" height="1"/>
<rect x="927" y="588" width="3" height="1"/>
<rect x="927" y="630" width="3" height="1"/>
<rect x="927" y="671" width="3" height="1"/>
</g>
<text class="ax" x="933.5" y="51">111.000</text>
<text class="ax" x="933.5" y="93">110.900</text>
<text class="ax" x="933.5" y="134">110.800</text>
<text class="ax" x="933.5" y="176">110.700</text>
<text class="ax" x="933.5" y="218">110.600</text>
<text class="ax" x="933.5" y="259">110.500</text>
<text class="ax" x="933.5" y="301">110.400</text>
<text class="ax" x="933.5" y="343">110.300</text>
<text class="ax" x="933.5" y="385">110.200</text>
<text class="ax" x="933.5" y="426">110.100</text>
<text class="ax" x="933.5" y="468">110.000</text>
<text class="ax" x="933.5" y="510">109.900</text>
<text class="ax" x="933.5" y="551">109.800</text>
<text class="ax" x="933.5" y="593">109.700</text>
<text class="ax" x="933.5" y="635">109.600</text>
<text class="ax" x="933.5" y="676">109.500</text>
</g>
<rect x="926" y="466" width="51" height="16" fill="#eb4d5c" shape-rendering="crispEdges"/>
<text class="pl" x="934" y="478">109.976</text>
<g fill="#555555" shape-rendering="crispEdges">
<rect x="6" y="5" width="972" height="1"/>
<rect x="6" y="695" width="972" height="1"/>
<rect x="6" y="5" width="1" height="691"/>
<rect x="977" y="5" width="1" height="691"/>
<rect x="926" y="5" width="1" height="466"/>
<rect x="926" y="482" width="1" height="195"/>
<rect x="6" y="676" width="921" height="1"/>
<rect x="52" y="677" width="1" height="3"/>
<rect x="137" y="677" width="1" height="3"/>
<rect x="221" y="677" width="1" height="3"/>
<rect x="323" y="677" width="1" height="3"/>
<rect x="458" y="677" width="1" height="3"/>
<rect x="593" y="677" width="1" height="3"/>
<rect x="729" y="677" width="1" height="3"/>
<rect x="813" y="677" width="1" height="3"/>
<rect x="898" y="677" width="1" height="3"/>
</g>
<text class="ax" x="52.0" y="691" text-anchor="middle">15</text>
<text class="ax" x="137.0" y="691" text-anchor="middle">15:00</text>
<text class="ax b" x="221.0" y="691" text-anchor="middle">18</text>
<text class="ax" x="323.0" y="691" text-anchor="middle">19</text>
<text class="ax" x="458.0" y="691" text-anchor="middle">20</text>
<text class="ax" x="593.0" y="691" text-anchor="middle">21</text>
<text class="ax" x="729.0" y="691" text-anchor="middle">22</text>
<text class="ax" x="813.0" y="691" text-anchor="middle">15:00</text>
<text class="ax b" x="898.0" y="691" text-anchor="middle">25</text>
</svg></body></html>
